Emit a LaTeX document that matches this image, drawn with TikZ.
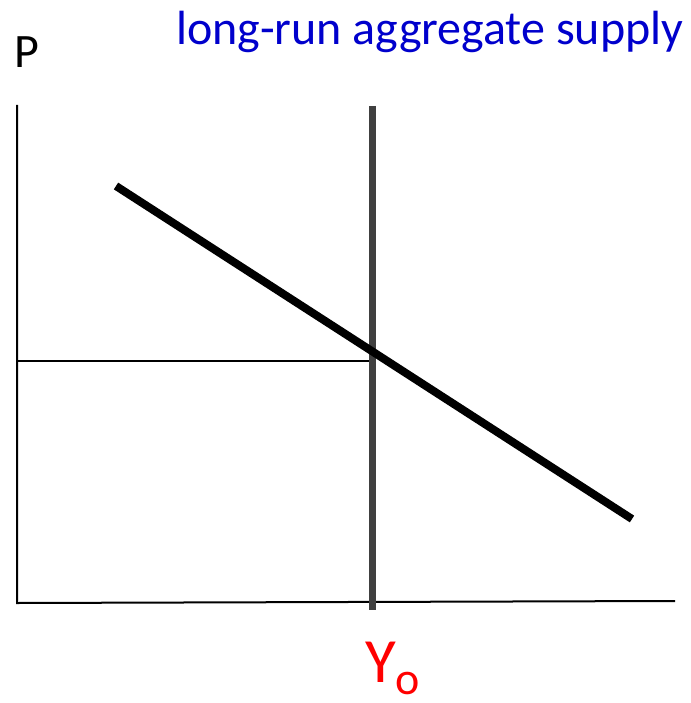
\documentclass[tikz,border=0pt]{standalone}
\usepackage{fontspec}
\setmainfont{Carlito}
\usepackage{xcolor}
\usepackage{tikz}
\definecolor{titleblue}{RGB}{0,0,204}
\definecolor{lrasgray}{RGB}{64,64,64}
\tikzset{
  axis/.style={draw, line width=2pt},
  guide/.style={draw, line width=2pt},
  lras/.style={draw=lrasgray, line width=7pt},
  demand/.style={draw, line width=8pt},
  lbl/.style={inner sep=0pt, anchor=base west},
}

\begin{document}
\begin{tikzpicture}[x=1pt, y=-1pt]
  \useasboundingbox (0,0) rectangle (690,703);

  \coordinate (origin) at (17,603);
  \coordinate (ytop) at (17,105);
  \coordinate (xend) at (675,601);
  \coordinate (lrastop) at (372,106);
  \coordinate (lrasbot) at (372,610);
  \coordinate (adstart) at (116,186);
  \coordinate (adend) at (632,519);
  \coordinate (pe) at (17,361);
  \coordinate (eq) at (372,361);

  \node[lbl, font=\fontsize{48}{48}\selectfont] (plabel) at (14,68) {P};
  \node[lbl, text=titleblue, font=\fontsize{48}{48}\selectfont] (title) at (176,45) {long-run aggregate supply};
  \node[lbl, text=red, font=\fontsize{63}{63}\selectfont] (ylabel) at (365,682)
    {Y{\fontsize{46}{46}\selectfont\raisebox{-12pt}{o}}};

  \draw[axis] (ytop) -- (origin) -- (xend);
  \draw[guide] (pe) -- (eq);
  \draw[lras] (lrastop) -- (lrasbot);
  \draw[demand] (adstart) -- (adend);
\end{tikzpicture}
\end{document}
